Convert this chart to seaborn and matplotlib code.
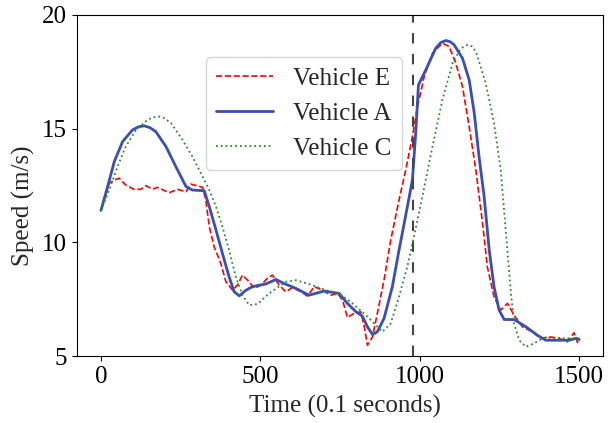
import numpy as np
import pandas as pd
import matplotlib
matplotlib.use('Agg')
import matplotlib.pyplot as plt
import seaborn as sns

# speed traces (time in 0.1 s, speed in m/s)
time_e = [0, 26, 42, 57, 78, 104, 125, 141, 162, 177, 214, 240, 267, 282, 319, 329, 340, 355, 376, 392,
          413, 428, 444, 465, 481, 502, 522, 538, 559, 580, 601, 627, 648, 669, 695, 721, 742, 758,
          773, 794, 815, 826, 836, 852, 867, 888, 909, 935, 956, 977, 993, 1014, 1040, 1071, 1092,
          1113, 1134, 1155, 1176, 1197, 1212, 1233, 1254, 1275, 1296, 1322, 1353, 1380, 1406, 1437,
          1463, 1484, 1495, 1500]
speed_e = [11.4, 12.6, 12.74, 12.82, 12.52, 12.33, 12.33, 12.49, 12.34, 12.42, 12.18, 12.33, 12.23, 12.56,
           12.42, 11.86, 10.69, 9.81, 9.08, 8.27, 7.9, 8.12, 8.56, 8.27, 7.98, 8.12, 8.42, 8.56, 8.12,
           7.83, 8.02, 7.83, 7.64, 8.05, 7.9, 7.68, 7.76, 7.46, 6.7, 6.88, 6.95, 6.29, 5.48, 5.85, 6.88,
           8.34, 10.1, 11.86, 13.18, 14.65, 15.97, 17.29, 18.31, 18.75, 18.61, 17.88, 16.85, 15.09,
           13.18, 10.84, 8.93, 7.61, 7.02, 7.32, 6.8, 6.29, 6.07, 5.78, 5.85, 5.78, 5.63, 6.03, 5.6, 5.8]

time_a = [0, 21, 42, 68, 99, 118, 136, 154, 172, 204, 235, 267, 287, 324, 340, 361, 381, 402, 418, 434,
          455, 475, 496, 517, 549, 575, 611, 653, 700, 747, 773, 800, 820, 836, 852, 867, 888, 914,
          935, 948, 977, 988, 996, 1019, 1050, 1066, 1082, 1095, 1108, 1134, 1155, 1171, 1186, 1202,
          1218, 1233, 1249, 1265, 1296, 1333, 1369, 1395, 1468, 1490, 1500]
speed_a = [11.4, 12.45, 13.55, 14.43, 14.94, 15.08, 15.12, 15.04, 14.87, 14.21, 13.33, 12.45, 12.3, 12.27,
           11.57, 10.54, 9.52, 8.49, 7.83, 7.65, 7.9, 8.05, 8.12, 8.17, 8.37, 8.19, 7.98, 7.68, 7.86,
           7.76, 7.32, 6.95, 6.76, 6.29, 5.95, 6.07, 6.66, 8.05, 9.66, 10.6, 12.74, 14.94, 16.92,
           17.58, 18.53, 18.78, 18.87, 18.82, 18.68, 18.09, 17.14, 15.68, 13.77, 12.01, 9.66, 8.05,
           7.02, 6.61, 6.61, 6.29, 5.92, 5.7, 5.7, 5.78, 5.73]

time_c = [0, 26, 52, 78, 110, 146, 165, 183, 200, 220, 256, 287, 319, 340, 361, 381, 402, 423, 444, 465,
          491, 528, 580, 611, 653, 706, 747, 789, 831, 857, 883, 909, 935, 961, 982, 1008, 1040, 1071,
          1103, 1129, 1150, 1163, 1176, 1207, 1233, 1254, 1275, 1286, 1296, 1312, 1333, 1358, 1385,
          1416, 1458, 1500]
speed_c = [11.4, 12.3, 13.33, 14.21, 14.94, 15.38, 15.5, 15.53, 15.45, 15.24, 14.5, 13.77, 12.89, 12.3,
           11.57, 10.69, 9.66, 8.49, 7.68, 7.24, 7.29, 7.76, 8.27, 8.34, 8.17, 7.9, 7.76, 7.32, 6.8,
           6.44, 6.07, 6.44, 7.61, 8.93, 10.25, 12.0, 14.21, 16.26, 17.88, 18.53, 18.68, 18.62, 18.39,
           17.0, 15.24, 13.18, 9.66, 7.76, 6.44, 5.7, 5.41, 5.56, 5.78, 5.82, 5.78, 5.78]

event_time = 980

sns.set_style('ticks')
plt.rcParams['font.family'] = ['Liberation Serif', 'DejaVu Serif']

fig, ax = plt.subplots(figsize=(6.16, 4.23), dpi=100)
fig.subplots_adjust(left=0.125, right=0.979, top=0.965, bottom=0.158)

sns.lineplot(x=time_e, y=speed_e, ax=ax, color='red', linestyle='--', linewidth=1.2, label='Vehicle E')
sns.lineplot(x=time_a, y=speed_a, ax=ax, color='#3a4fb0', linestyle='-', linewidth=2.0, label='Vehicle A')
sns.lineplot(x=time_c, y=speed_c, ax=ax, color='#2a8a2a', linestyle=':', linewidth=1.3, label='Vehicle C')
ax.axvline(event_time, color='#444444', linestyle='--', linewidth=1.5, dashes=(5, 5))

ax.set_xlim(-75, 1575)
ax.set_ylim(5, 20)
ax.set_xticks([0, 500, 1000, 1500])
ax.set_yticks([5, 10, 15, 20])
ax.tick_params(labelsize=18, colors='black')
ax.set_xlabel('Time (0.1 seconds)', fontsize=18)
ax.set_ylabel('Speed (m/s)', fontsize=18)
ax.xaxis.set_label_coords(0.51, -0.113)
ax.yaxis.set_label_coords(-0.08, 0.44)
for s in ax.spines.values():
    s.set_color('black')

ax.legend(loc='upper left', bbox_to_anchor=(0.245, 0.875), borderaxespad=0, fontsize=18,
          handlelength=2.3, framealpha=0.8)

plt.savefig('out.png', dpi=100)
